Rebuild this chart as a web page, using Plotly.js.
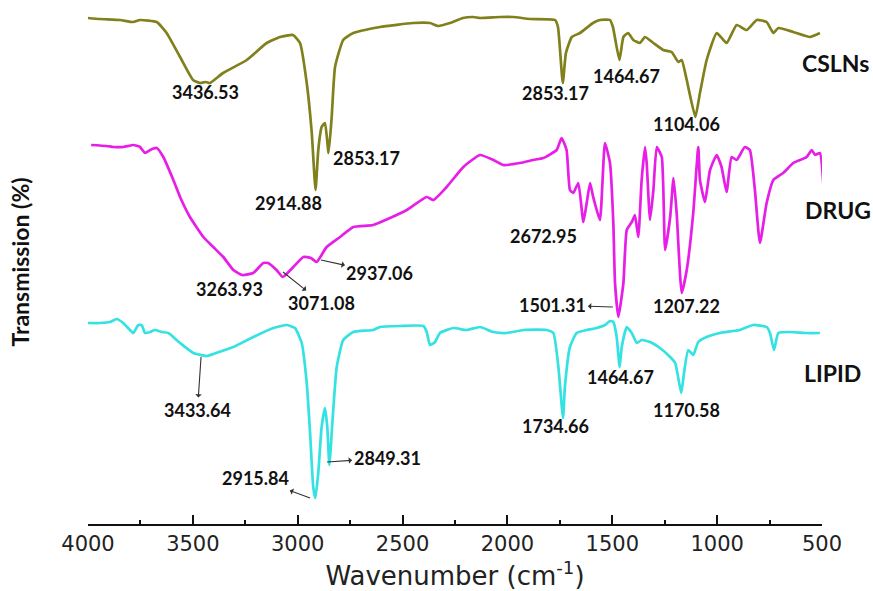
<!DOCTYPE html>
<html>
<head>
<meta charset="utf-8">
<script src="https://cdn.plot.ly/plotly-3.0.1.min.js"></script>
<style>html,body{margin:0;padding:0;background:#fff;}#chart{width:873px;height:591px;}</style>
</head>
<body>
<div id="chart"></div>
<script>
// ---- data (wavenumber in cm-1, transmission in arbitrary stacked units) ----
const cslnWn = [4000,3943,3847,3785,3752,3672,3625,3561,3499,3466,3437,3418,3356,3243,3148,3084,3022,2989,2957,2933,2915,2902,2886,2870,2853,2838,2822,2783,2735,2608,2450,2369,2331,2274,2212,2164,2131,2035,1973,1892,1773,1759,1736,1721,1693,1654,1592,1559,1511,1497,1466,1447,1424,1400,1368,1344,1304,1257,1217,1185,1169,1145,1104,1082,1050,1002,955,907,859,811,764,732,708,637,557,510];
const cslnT  = [506,505,504,502,504,502,491,467,444,441,442,441,451,464,481,487,489,481,441,391,334,374,397,401,371,407,457,484,491,497,501,501,498,501,506,507,506,507,507,505,504,497,441,471,487,491,501,504,504,497,464,487,491,484,481,487,481,474,472,462,464,444,407,431,464,491,481,499,494,504,502,491,496,492,487,491];

const drugWn = [3985,3911,3879,3832,3784,3752,3728,3704,3672,3641,3593,3561,3514,3450,3403,3355,3307,3264,3212,3164,3141,3101,3071,3021,2973,2937,2910,2862,2798,2735,2640,2560,2480,2385,2353,2290,2210,2131,2067,2020,1940,1877,1829,1765,1742,1718,1702,1686,1662,1638,1622,1606,1591,1559,1535,1511,1495,1487,1471,1447,1431,1407,1392,1376,1360,1344,1336,1320,1304,1288,1264,1248,1224,1208,1193,1169,1145,1114,1090,1082,1058,1034,1002,979,955,931,907,868,844,820,796,764,732,685,637,605,573,549,533,510,494];
const drugT  = [379,378,377,377,379,377,371,374,376,367,344,327,307,287,277,267,254,249,251,261,261,254,247,257,267,266,262,277,287,297,299,306,314,327,324,337,357,369,364,359,361,364,366,374,386,374,334,331,341,302,321,341,327,304,381,361,301,241,207,241,294,302,309,287,344,377,361,304,334,377,367,274,307,346,311,231,254,311,377,344,322,354,369,357,332,367,364,377,374,334,281,321,344,351,361,364,367,374,369,371,341,362];

const lipidWn = [4000,3943,3895,3863,3832,3800,3784,3760,3744,3728,3704,3681,3649,3617,3561,3498,3434,3403,3307,3212,3116,3053,3013,2981,2957,2941,2926,2916,2902,2886,2870,2859,2849,2833,2814,2783,2735,2640,2608,2512,2401,2385,2369,2345,2322,2258,2194,2131,2067,2004,1924,1813,1781,1757,1735,1726,1702,1670,1622,1575,1535,1511,1495,1479,1465,1455,1431,1407,1383,1360,1320,1273,1224,1200,1171,1158,1138,1114,1090,1050,987,891,828,764,748,729,708,653,573,510];
const lipidT  = [201,201,202,205,201,194,191,199,199,191,192,194,192,191,181,171,168,170,177,187,196,199,196,181,141,91,37,26,51,97,116,97,59,107,157,184,192,194,197,198,198,192,179,182,191,196,194,197,192,191,194,194,191,157,106,137,177,191,194,196,199,203,202,187,157,177,197,191,181,184,182,176,167,161,131,151,174,169,182,187,191,194,199,197,191,174,191,192,191,191];

const seriesNames = ["CSLNs","DRUG","LIPID"];
const tickVals = [4000,3500,3000,2500,2000,1500,1000,500];

// peak labels
const labelText = ["3436.53","2853.17","2914.88","2853.17","1464.67","1104.06",
                   "3263.93","3071.08","2937.06","2672.95","1501.31","1207.22",
                   "3433.64","2849.31","2915.84","1734.66","1464.67","1170.58"];
const labelWn = [3442,2674,3046,1773,1430,1144, 3323,2885,2608,1826,1783,1144, 3478,2574,3199,1773,1463,1144];
const labelT  = [432,366,321,431,448,400, 235,221,251,288,219,218, 114,66,46,98,147,114];
// point on the curve that a label's arrow starts from (null = no arrow)
const arrowFromWn = [null,null,null,null,null,null, null,3070,2889,null,1497,null, 3461,2860,2941,null,null,null];
const arrowFromT  = [null,null,null,null,null,null, null,252,264,null,217,null, 167,62,26,null,null,null];

// ---- chart ----
const colors = ["#80801c","#e61ee6","#35e2e2"];
const xs = [cslnWn, drugWn, lipidWn];
const ys = [cslnT, drugT, lipidT];
const traces = seriesNames.map((n,i)=>({
  x: xs[i], y: ys[i], type:"scatter", mode:"lines", name:n,
  line:{color:colors[i], width:2.7, shape:"spline", smoothing:0.45}, hoverinfo:"skip"
}));

const labelFont = {family:"Lato, 'Open Sans', sans-serif", size:18, color:"#111", weight:700};
const annotations = [];
labelText.forEach((t,i)=>{
  if(arrowFromWn[i] === null){
    annotations.push({x:labelWn[i], y:labelT[i], xref:"x", yref:"y", text:t, showarrow:false,
      xanchor:"center", yanchor:"middle", font:labelFont});
  } else {
    annotations.push({x:arrowFromWn[i], y:arrowFromT[i], ax:labelWn[i], ay:labelT[i],
      xref:"x", yref:"y", axref:"x", ayref:"y", text:t, showarrow:true,
      arrowside:"start", arrowhead:2, arrowsize:1, arrowwidth:1.1, arrowcolor:"#333",
      standoff:0, startstandoff:0, xanchor:"center", yanchor:"middle", font:labelFont});
  }
});
const seriesLabelX = [1.019, 1.022, 1.014];
const seriesLabelY = [0.880, 0.599, 0.288];
seriesNames.forEach((n,i)=>{
  annotations.push({x:seriesLabelX[i], y:seriesLabelY[i], xref:"paper", yref:"paper", text:n,
    showarrow:false, xanchor:"center", yanchor:"middle",
    font:{family:"Lato, 'Open Sans', sans-serif", size:23, color:"#111", weight:700}});
});

const layout = {
  width:873, height:591,
  margin:{l:88, r:51, t:0, b:67, pad:0},
  paper_bgcolor:"#fff", plot_bgcolor:"#fff",
  showlegend:false,
  xaxis:{
    range:[4000,500], tickvals:tickVals, ticktext:tickVals.map(String),
    ticks:"inside", ticklen:9, tickwidth:2, tickcolor:"#111",
    minor:{dtick:250, tick0:500, ticks:"inside", ticklen:4, tickwidth:2, tickcolor:"#111", showgrid:false},
    showline:true, linecolor:"#111", linewidth:2, showgrid:false, zeroline:false,
    tickfont:{family:"'DejaVu Sans', sans-serif", size:21, color:"#222"},
    title:{text:"Wavenumber (cm<sup>-1</sup>)", standoff:12,
      font:{family:"'DejaVu Sans', sans-serif", size:26, color:"#222"}}
  },
  yaxis:{
    range:[0,524], showticklabels:false, ticks:"", showgrid:false, zeroline:false, showline:false,
    title:{text:"Transmission (%)", standoff:50,
      font:{family:"Lato, 'Open Sans', sans-serif", size:23, color:"#111", weight:700}}
  },
  annotations: annotations
};

Plotly.newPlot("chart", traces, layout, {staticPlot:true, displayModeBar:false});
</script>
</body>
</html>
